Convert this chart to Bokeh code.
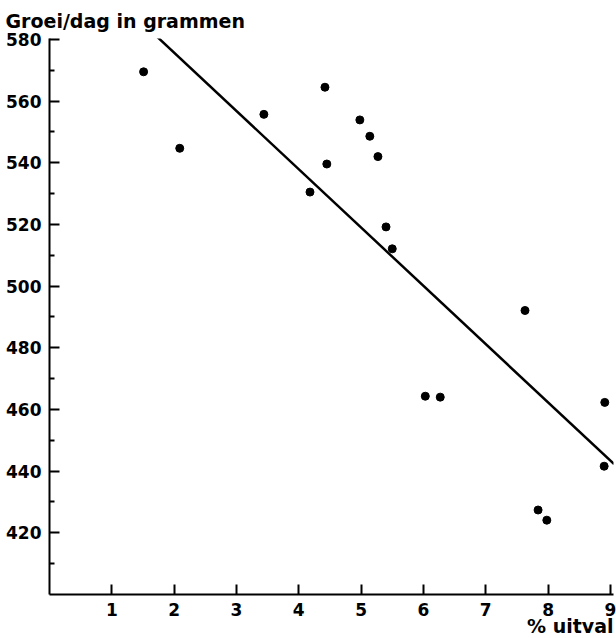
from bokeh.plotting import figure
from bokeh.models import Range1d, FixedTicker, Title
from bokeh.embed import file_html
from bokeh.resources import INLINE

# Data
uitval = [1.51, 2.09, 3.44, 4.42, 4.45, 4.18, 4.98, 5.14, 5.27, 5.40, 5.50,
          6.03, 6.27, 7.63, 7.84, 7.98, 8.91, 8.90]
groei = [569.5, 544.7, 555.7, 564.5, 539.6, 530.5, 553.9, 548.6, 542.0, 519.2,
         512.1, 464.3, 464.0, 492.1, 427.4, 424.1, 462.3, 441.6]

# Regression line: groei = intercept + slope * uitval
intercept = 613.5
slope = -18.9
line_x = [1.64, 9.06]
line_y = [intercept + slope * v for v in line_x]

x_ticks = [1, 2, 3, 4, 5, 6, 7, 8, 9]
y_ticks = [420, 440, 460, 480, 500, 520, 540, 560, 580]
y_minor = [410, 430, 450, 470, 490, 510, 530, 550, 570]

x_title = "% uitval"
y_title = "Groei/dag in grammen"

FONT = "DejaVu Sans"

p = figure(width=616, height=638, output_backend="svg", toolbar_location=None,
           x_range=Range1d(0, 9.05), y_range=Range1d(400, 580.3),
           min_border_left=49, min_border_right=3, min_border_top=38,
           min_border_bottom=44)
p.outline_line_color = None
p.xgrid.visible = False
p.ygrid.visible = False
p.background_fill_color = "white"
p.border_fill_color = "white"

p.title.text = y_title
p.title.align = "left"
p.title.offset = -44
p.title.text_font = FONT
p.title.text_font_size = "19px"
p.title.text_font_style = "bold"
p.title.text_color = "black"
p.title.standoff = 13

p.add_layout(Title(text=x_title, align="right", text_font=FONT,
                   text_font_size="19px", text_font_style="bold",
                   text_color="black", vertical_align="top",
                   standoff=-8), "below")

for ax in (p.xaxis[0], p.yaxis[0]):
    ax.axis_line_width = 2
    ax.axis_line_color = "black"
    ax.major_tick_in = 10
    ax.major_tick_out = 0
    ax.major_tick_line_width = 2
    ax.major_tick_line_color = "black"
    ax.minor_tick_in = 5
    ax.minor_tick_out = 0
    ax.minor_tick_line_width = 2
    ax.minor_tick_line_color = "black"
    ax.major_label_text_font = FONT
    ax.major_label_text_font_size = "17px"
    ax.major_label_text_font_style = "bold"
    ax.major_label_text_color = "black"

p.xaxis.major_label_standoff = 8
p.yaxis.major_label_standoff = 8

p.xaxis.ticker = FixedTicker(ticks=x_ticks)
p.yaxis.ticker = FixedTicker(ticks=y_ticks, minor_ticks=y_minor)

p.line(line_x, line_y, line_color="black", line_width=2.5)
p.scatter(uitval, groei, size=8, fill_color="black", line_color="black")

open("out.html", "w").write(file_html(p, INLINE))
